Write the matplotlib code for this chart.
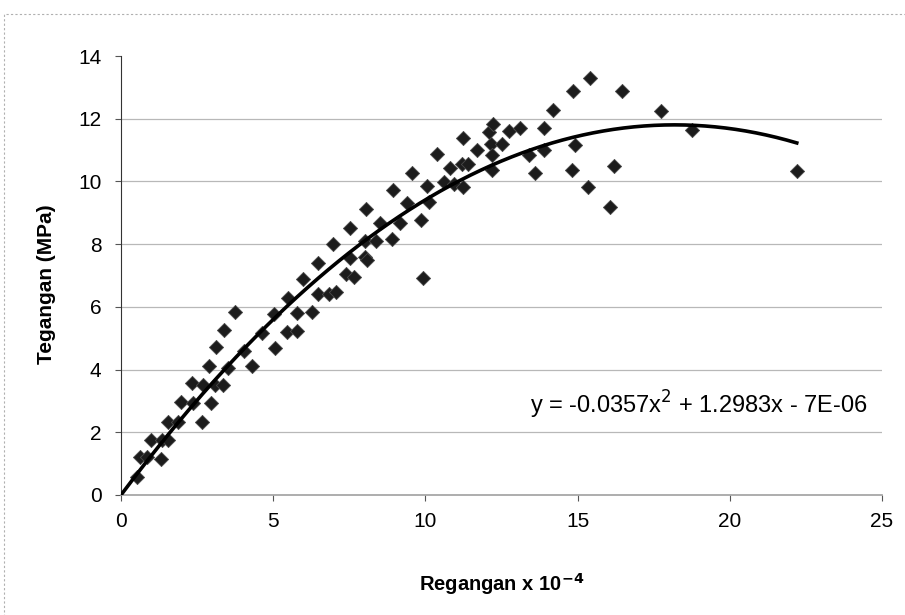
import numpy as np
import matplotlib
matplotlib.use("Agg")
import matplotlib.pyplot as plt
from matplotlib.patches import Rectangle

plt.rcParams['font.family'] = ['Liberation Sans', 'DejaVu Sans']

# regangan (x 10^-4) dan tegangan (MPa)
regangan = [0.52, 0.62, 0.84, 1.31, 1.00, 1.34, 1.54, 1.54, 1.87, 2.66,
            1.96, 2.36, 2.96, 2.33, 2.69, 3.09, 3.35, 2.90, 3.50, 3.12,
            3.38, 3.74, 4.29, 4.05, 4.62, 5.06, 5.03, 5.45, 5.77, 5.50,
            5.77, 6.26, 5.99, 6.48, 6.82, 7.07, 6.48, 7.39, 7.66, 6.95,
            7.52, 7.51, 8.00, 8.07, 8.00, 8.38, 8.89, 8.04, 8.50, 9.18,
            9.86, 8.95, 9.41, 10.12, 9.56, 10.04, 10.62, 10.94, 11.23, 9.92,
            10.82, 11.20, 11.40, 10.37, 11.23, 11.70, 12.14, 12.50, 12.20, 12.20,
            12.10, 12.22, 12.74, 13.10, 13.90, 13.40, 13.90, 13.60, 14.18, 14.85,
            14.90, 14.80, 15.40, 15.35, 16.06, 16.20, 16.45, 17.75, 18.75, 22.20]
tegangan = [0.58, 1.22, 1.21, 1.15, 1.75, 1.75, 1.75, 2.33, 2.33, 2.33,
            2.96, 2.93, 2.93, 3.56, 3.50, 3.50, 3.50, 4.10, 4.04, 4.72,
            5.26, 5.85, 4.10, 4.58, 5.16, 4.70, 5.78, 5.21, 5.23, 6.28,
            5.81, 5.84, 6.88, 6.42, 6.42, 6.46, 7.41, 7.06, 6.94, 7.99,
            8.51, 7.57, 7.60, 7.48, 8.10, 8.10, 8.16, 9.12, 8.69, 8.69,
            8.76, 9.74, 9.30, 9.33, 10.27, 9.86, 9.99, 9.93, 9.82, 6.91,
            10.43, 10.57, 10.57, 10.86, 11.40, 11.00, 11.18, 11.18, 10.83, 10.38,
            11.57, 11.84, 11.60, 11.70, 11.70, 10.85, 11.00, 10.27, 12.28, 12.88,
            11.15, 10.38, 13.30, 9.82, 9.20, 10.50, 12.88, 12.26, 11.65, 10.33]

# trendline polinomial orde 2
koef = [-0.0357, 1.2983, -7e-06]
x_max_trend = 22.2

fig = plt.figure(figsize=(9.05, 6.15), dpi=100)
ax = fig.add_axes([121/905, 120/615, 761/905, 439/615])

# border chart (garis putus-putus abu)
fig.patches.append(Rectangle((4/905, -0.1), 1.2, (601 + 61.5)/615,
                             transform=fig.transFigure, fill=False,
                             edgecolor='#b0b0b0', linestyle=(0, (2, 2)),
                             linewidth=0.8))

ax.scatter(regangan, tegangan, marker='D', s=52, color='#1c1c1c',
           edgecolor='#4a4a4a', linewidth=0.6, zorder=3)

xt = np.linspace(0, x_max_trend, 200)
yt = np.polyval(koef, xt)
ax.plot(xt, yt, color='black', linewidth=2.6, zorder=4)

ax.set_xlim(0, 25)
ax.set_ylim(0, 14)
ax.set_xticks(range(0, 26, 5))
ax.set_yticks(range(0, 15, 2))

for yv in range(2, 14, 2):
    ax.axhline(yv, color='#b8b8b8', linewidth=0.9, zorder=1)

ax.spines['top'].set_visible(False)
ax.spines['right'].set_visible(False)
ax.spines['left'].set_color('#333333')
ax.spines['bottom'].set_color('#a0a0a0')
ax.spines['bottom'].set_linewidth(1.2)
ax.tick_params(axis='both', labelsize=15, length=4, color='#555555')
ax.tick_params(axis='y', pad=10)
ax.tick_params(axis='x', pad=8)

ax.set_xlabel('Regangan x 10$^{\\mathbf{-4}}$', fontsize=14.5, fontweight='bold', labelpad=29)
ax.set_ylabel('Tegangan (MPa)', fontsize=15, fontweight='bold')
ax.yaxis.set_label_coords(-0.085, 0.48)

ax.text(19.0, 2.87, 'y = -0.0357x$^2$ + 1.2983x - 7E-06', fontsize=17,
        ha='center', va='center')

plt.savefig('out.png', dpi=100)
